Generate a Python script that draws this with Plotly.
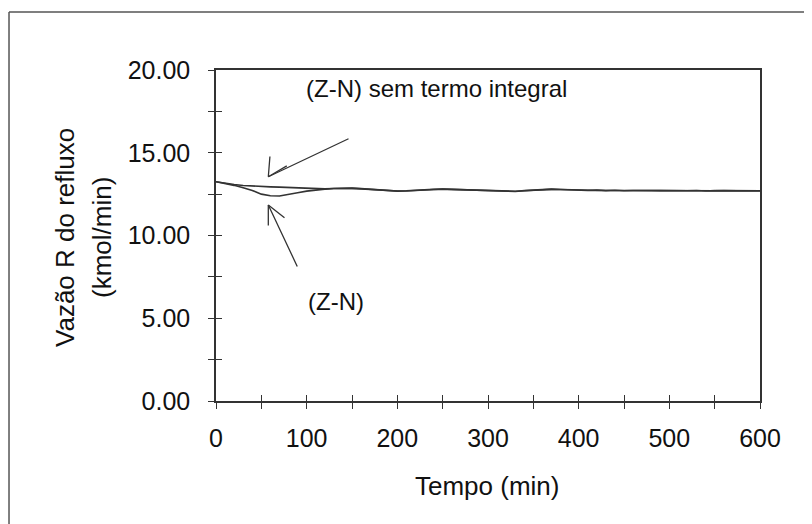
import plotly.graph_objects as go

# ---- data ----
tempo = list(range(0, 601, 10))
zn_sem_integral = [13.25, 13.15, 13.08, 13.02, 12.98, 12.96, 12.94, 12.92, 12.90, 12.87,
                   12.85, 12.83, 12.82, 12.84, 12.86, 12.85, 12.82, 12.78, 12.74, 12.71,
                   12.69, 12.70, 12.74, 12.77, 12.79, 12.80, 12.78, 12.76, 12.74, 12.72,
                   12.70, 12.68, 12.66, 12.67, 12.70, 12.74, 12.78, 12.79, 12.78, 12.76,
                   12.74, 12.73, 12.73, 12.72, 12.72, 12.71, 12.72, 12.71, 12.71, 12.72,
                   12.71, 12.70, 12.71, 12.71, 12.70, 12.70, 12.71, 12.70, 12.69, 12.70,
                   12.70]
zn = [13.25, 13.15, 13.03, 12.88, 12.72, 12.50, 12.40, 12.39, 12.47, 12.58,
      12.68, 12.75, 12.80, 12.84, 12.87, 12.86, 12.83, 12.79, 12.75, 12.71,
      12.68, 12.69, 12.73, 12.77, 12.80, 12.81, 12.79, 12.77, 12.74, 12.71,
      12.69, 12.66, 12.64, 12.66, 12.71, 12.75, 12.79, 12.80, 12.78, 12.75,
      12.74, 12.72, 12.74, 12.71, 12.73, 12.70, 12.72, 12.70, 12.72, 12.71,
      12.70, 12.71, 12.70, 12.72, 12.69, 12.71, 12.70, 12.71, 12.69, 12.70,
      12.69]

x_tickvals = list(range(0, 601, 50))
x_ticktext = ["0", "", "100", "", "200", "", "300", "", "400", "", "500", "", "600"]
y_tickvals = [0, 2.5, 5, 7.5, 10, 12.5, 15, 17.5, 20]
y_ticktext = ["0.00", "", "5.00", "", "10.00", "", "15.00", "", "20.00"]

label_sem = "(Z-N) sem termo integral"
label_zn = "(Z-N)"
x_title = "Tempo (min)"
y_title_1 = "Vazão R do refluxo"
y_title_2 = "(kmol/min)"

FONT = "Arial, Liberation Sans, sans-serif"
INK = "#111111"
LINE = "#333333"

fig = go.Figure()
fig.add_trace(go.Scatter(x=tempo, y=zn_sem_integral, mode="lines",
                         line=dict(color=LINE, width=1.6), showlegend=False))
fig.add_trace(go.Scatter(x=tempo, y=zn, mode="lines",
                         line=dict(color=LINE, width=1.6), showlegend=False))
# empty trace to activate overlay axes (inside half of the crossing ticks)
fig.add_trace(go.Scatter(x=[], y=[], xaxis="x2", yaxis="y2", showlegend=False))

tick_common = dict(showgrid=False, zeroline=False, tickcolor=LINE, tickwidth=1, ticklen=6)
axis_common = dict(linecolor=LINE, linewidth=1.5, **tick_common)

fig.update_layout(
    width=812, height=524,
    margin=dict(l=208, r=60, t=62, b=131),
    paper_bgcolor="white", plot_bgcolor="white",
    font=dict(family=FONT, color=INK, size=24),
    xaxis=dict(range=[0, 600], tickmode="array", tickvals=x_tickvals, ticktext=x_ticktext,
               ticks="outside", mirror=True, showline=True, ticklabelstandoff=8,
               tickfont=dict(size=25, color=INK), **axis_common),
    yaxis=dict(range=[0, 20], tickmode="array", tickvals=y_tickvals, ticktext=y_ticktext,
               ticks="outside", mirror=True, showline=True, ticklabelstandoff=13,
               tickfont=dict(size=25, color=INK), **axis_common),
    xaxis2=dict(range=[0, 600], overlaying="x", anchor="y2", side="bottom",
                tickmode="array", tickvals=x_tickvals, ticks="inside",
                showticklabels=False, showline=False, **tick_common),
    yaxis2=dict(range=[0, 20], overlaying="y", anchor="x2", side="left",
                tickmode="array", tickvals=y_tickvals, ticks="inside",
                showticklabels=False, showline=False, **tick_common),
)

# outer frame (left and top edges of the scanned chart box)
fig.add_shape(type="line", xref="paper", yref="paper", x0=-0.3805, x1=-0.3805, y0=-0.40, y1=1.1752,
              line=dict(color="#555555", width=1.5))
fig.add_shape(type="line", xref="paper", yref="paper", x0=-0.3805, x1=1.12, y0=1.1752, y1=1.1752,
              line=dict(color="#555555", width=1.5))

annotations = [
    dict(text=label_sem, xref="paper", yref="paper", x=0.162, y=0.9426,
         xanchor="left", yanchor="middle", showarrow=False, font=dict(size=24, color=INK)),
    dict(text=label_zn, xref="paper", yref="paper", x=0.165, y=0.302,
         xanchor="left", yanchor="middle", showarrow=False, font=dict(size=24, color=INK)),
    dict(text=x_title, xref="paper", yref="paper", x=0.498, y=-0.2568,
         xanchor="center", yanchor="middle", showarrow=False, font=dict(size=26, color=INK)),
    dict(text=y_title_1, xref="paper", yref="paper", x=-0.2776, y=0.4955, textangle=-90,
         xanchor="center", yanchor="middle", showarrow=False, font=dict(size=26, color=INK)),
    dict(text=y_title_2, xref="paper", yref="paper", x=-0.2096, y=0.4955, textangle=-90,
         xanchor="center", yanchor="middle", showarrow=False, font=dict(size=26, color=INK)),
]

# arrows: shaft and two barbs (open V heads), drawn as line-only annotations
def seg(x0, y0, x1, y1):
    return dict(x=x1, y=y1, ax=x0, ay=y0, xref="x", yref="y", axref="x", ayref="y",
                text="", showarrow=True, arrowhead=0, arrowwidth=1.3, arrowcolor=LINE)

tip1 = (57.7, 13.55)
tip2 = (57.7, 11.84)
annotations += [
    seg(147.8, 15.89, *tip1), seg(59.6, 14.86, *tip1), seg(79.7, 14.26, *tip1),
    seg(90.4, 8.04, *tip2), seg(57.7, 10.51, *tip2), seg(77.2, 11.0, *tip2),
]
fig.update_layout(annotations=annotations)

fig.write_html("out.html")
